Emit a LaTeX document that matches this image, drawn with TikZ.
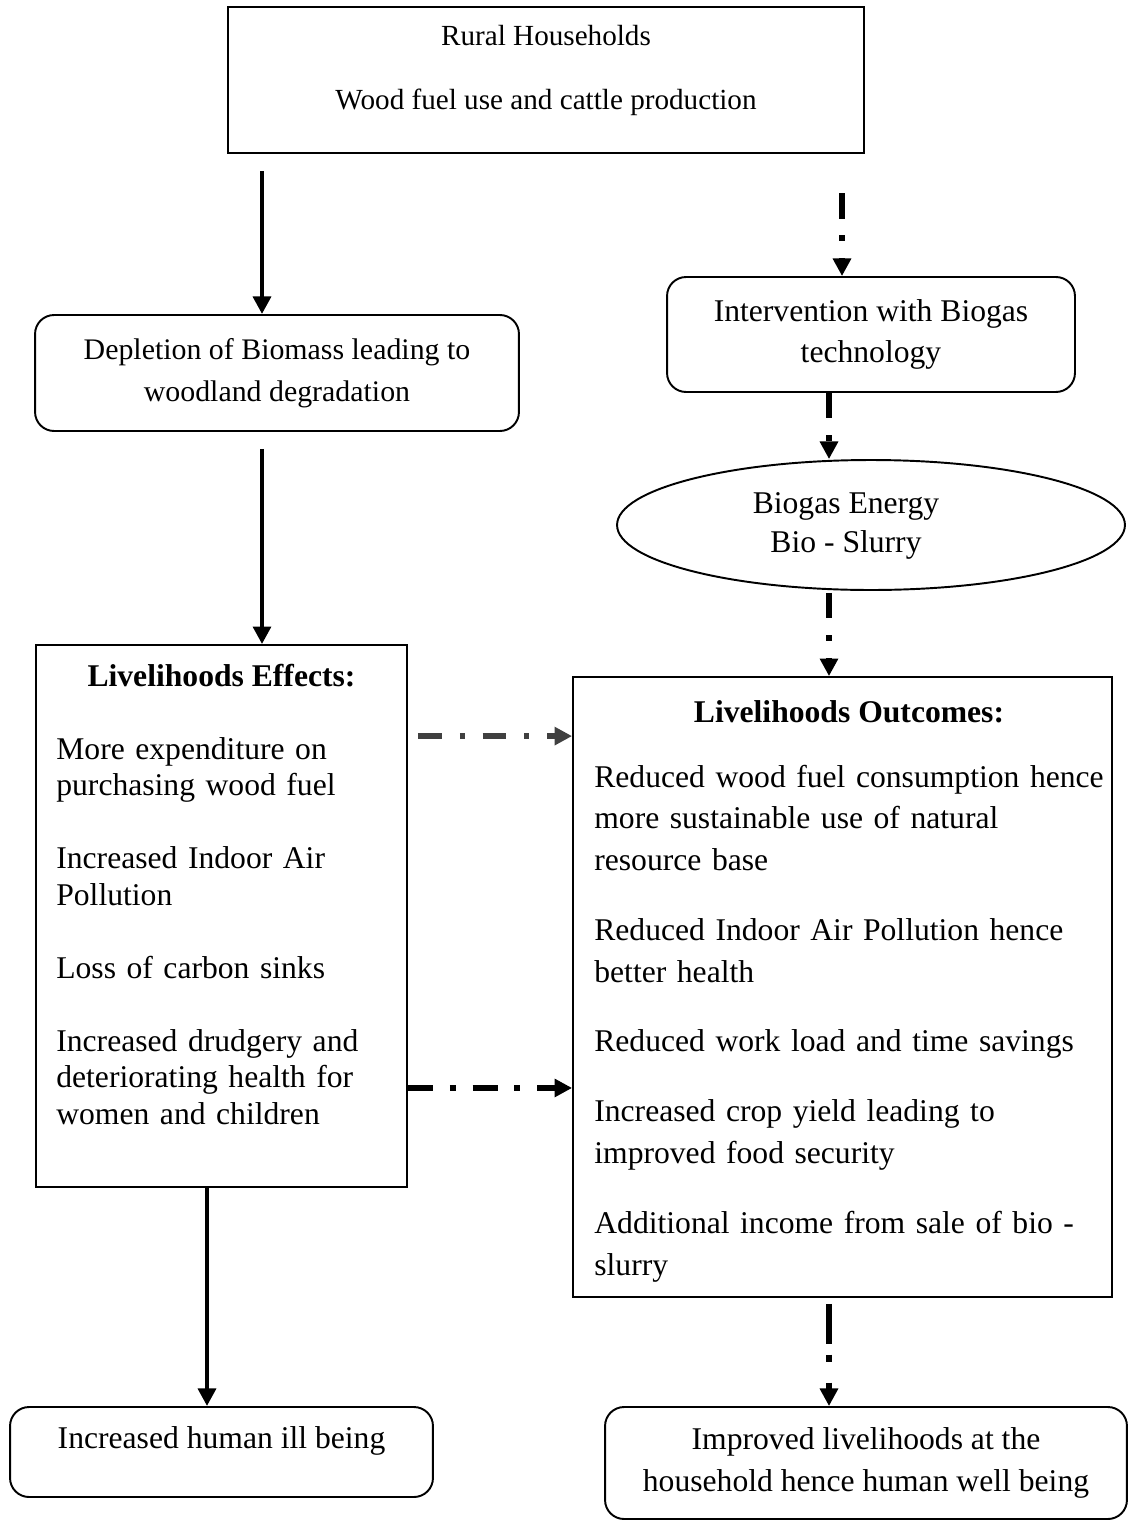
\documentclass[tikz,border=0pt]{standalone}
\usepackage{fontspec}
\setmainfont{Liberation Serif}
\usepackage{xcolor}
\usetikzlibrary{arrows.meta,shapes.geometric}
\definecolor{ArrowGray}{RGB}{64,64,64}

\tikzset{
  box/.style={draw, line width=1.1pt, inner sep=0pt},
  roundbox/.style={box, rounded corners=0.38cm},
  txt/.style={inner sep=0pt, anchor=base},
  flowtip/.style={-{Triangle[length=10pt,width=10pt]}},
  solidarrow/.style={flowtip, line width=2.8pt},
  dasharrow/.style={flowtip, line width=3.4pt, dash pattern=on 14.5pt off 9.6pt on 3.4pt off 9.6pt},
}

\begin{document}
\begin{tikzpicture}[x=0.02cm, y=-0.02cm, font=\fontsize{18}{23.8}\selectfont]
  \useasboundingbox (0,0) rectangle (1136,1521);
  % left column
  \node[box, line width=1.3pt, minimum width=12.72cm, minimum height=2.92cm] (top) at (546,80) {};
  \node[txt, font=\fontsize{16.6}{20}\selectfont] (rural) at (546,45) {Rural Households};
  \node[txt, font=\fontsize{16.6}{20}\selectfont] (wood) at (546,109) {Wood fuel use and cattle production};
  \node[roundbox, align=center, minimum width=9.68cm, minimum height=2.32cm, font=\fontsize{17}{23.8}\selectfont] (dep) at (277,373) {Depletion of Biomass leading to\\woodland degradation};
  \node[box, minimum width=7.42cm, minimum height=10.84cm] (effects) at (221.5,916) {};
  \node[txt, font=\fontsize{18}{21}\selectfont\bfseries] (efftitle) at (221.5,686) {Livelihoods Effects:};
  \node[txt, anchor=base west, text width=7cm, align=left, font=\fontsize{18}{21}\selectfont] (efflist) at (56,759)
    {More expenditure on\\purchasing wood fuel\\[20.4pt]Increased Indoor Air\\Pollution\\[20.4pt]Loss of carbon sinks\\[20.4pt]Increased drudgery and\\deteriorating health for\\women and children};
  \node[roundbox, minimum width=8.46cm, text height=0.82cm, text depth=0.98cm] (ill) at (221.5,1452) {Increased human ill being};
  % right column
  \node[roundbox, align=center, minimum width=8.16cm, minimum height=2.3cm] (interv) at (871,334.5) {Intervention with Biogas\\technology};
  \node[box, ellipse, minimum width=10.16cm, minimum height=2.6cm] (ell) at (871,525) {};
  \node[align=center, inner sep=0pt, font=\fontsize{18}{22.1}\selectfont] (elltext) at (846,526) {Biogas Energy\\Bio - Slurry};
  \node[box, minimum width=10.78cm, minimum height=12.4cm] (outcomes) at (842.5,987) {};
  \node[txt, font=\fontsize{18}{23.8}\selectfont\bfseries] (outtitle) at (849,722) {Livelihoods Outcomes:};
  \node[txt, anchor=base west, text width=10.4cm, align=left] (outlist) at (594,787)
    {Reduced wood fuel consumption hence\\more sustainable use of natural\\resource base\\[15.9pt]Reduced Indoor Air Pollution hence\\better health\\[15.9pt]Reduced work load and time savings\\[15.9pt]Increased crop yield leading to\\improved food security\\[15.9pt]Additional income from sale of bio -\\slurry};
  \node[roundbox, align=center, minimum width=10.44cm, minimum height=2.24cm] (wellb) at (866,1463) {Improved livelihoods at the\\household hence human well being};
  % connectors
  \coordinate (a1) at ([shift={(-15,-143)}]dep.north);
  \coordinate (a2) at ([shift={(-15,17)}]dep.south);
  \coordinate (a3) at ([xshift=-0.29cm]effects.south);
  \coordinate (b1) at ([shift={(296,39)}]top.south);
  \coordinate (b2) at ([xshift=-0.84cm]interv.south);
  \coordinate (b3) at ([shift={(-42,2)}]ell.south);
  \coordinate (b4) at ([shift={(-13.5,6)}]outcomes.south);
  \coordinate (c1) at ([shift={(10,92)}]effects.north east);
  \coordinate (c2) at ([yshift=-3.44cm]effects.east);
  \draw[solidarrow] (a1) -- (a1 |- dep.north);
  \draw[solidarrow] (a2) -- (a2 |- effects.north);
  \draw[solidarrow] (a3) -- (a3 |- ill.north);
  \draw[dasharrow] (b1) -- (b1 |- interv.north);
  \draw[dasharrow] (b2) -- (b2 |- ell.north);
  \draw[dasharrow] (b3) -- (b3 |- outcomes.north);
  \draw[dasharrow, dash pattern=on 22.7pt off 6.2pt on 4pt off 11.9pt] (b4) -- (b4 |- wellb.north);
  \draw[dasharrow, ArrowGray, line width=3pt, dash pattern=on 13.6pt off 10.2pt on 2.8pt off 10.2pt] (c1) -- (c1 -| outcomes.west);
  \draw[dasharrow, line width=3.6pt, dash pattern=on 14.2pt off 9.6pt on 3.4pt off 9.6pt] (c2) -- (c2 -| outcomes.west);
\end{tikzpicture}
\end{document}
